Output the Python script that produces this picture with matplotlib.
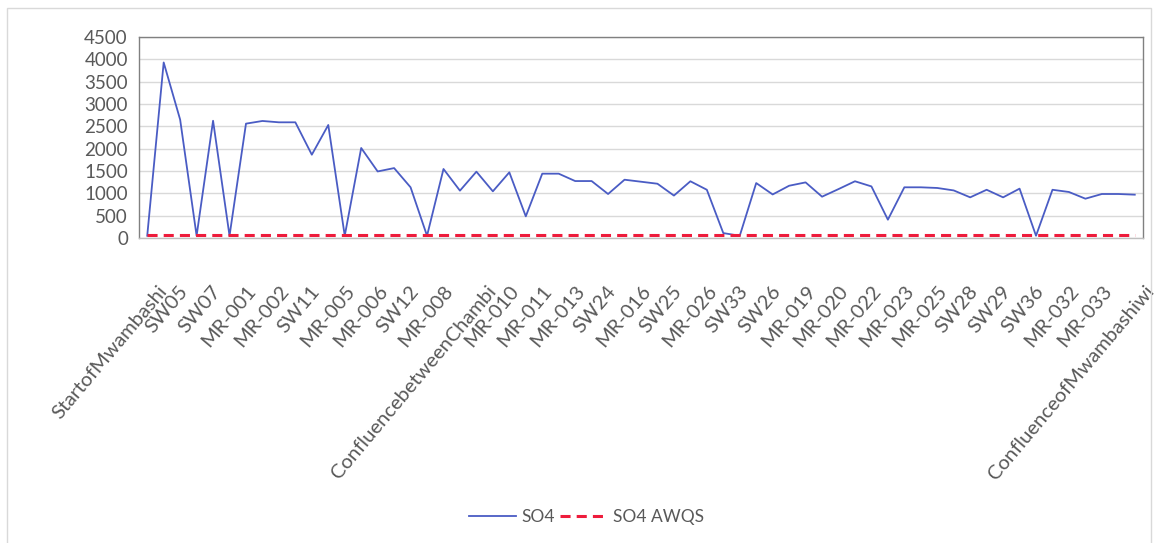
import numpy as np
import matplotlib
matplotlib.use('Agg')
import matplotlib.pyplot as plt
import matplotlib.transforms as mtransforms
from matplotlib.patches import Rectangle

plt.rcParams['font.family'] = ['Lato', 'DejaVu Sans']

# sampling points shown on the axis (every second point has a label)
labels = ['StartofMwambashi', 'SW05', 'SW07', 'MR-001', 'MR-002', 'SW11', 'MR-005',
          'MR-006', 'SW12', 'MR-008', 'ConfluencebetweenChambi', 'MR-010', 'MR-011',
          'MR-013', 'SW24', 'MR-016', 'SW25', 'MR-026', 'SW33', 'SW26', 'MR-019',
          'MR-020', 'MR-022', 'MR-023', 'MR-025', 'SW28', 'SW29', 'SW36', 'MR-032',
          'MR-033', 'ConfluenceofMwambashiwi']

# SO4 concentration at each of the 61 sampling points
so4 = [50, 3930, 2650, 50, 2625, 50, 2560, 2620, 2590, 2590,
       1865, 2530, 50, 2015, 1490, 1565, 1135, 50, 1545, 1060,
       1485, 1045, 1470, 485, 1440, 1440, 1275, 1275, 985, 1305,
       1260, 1215, 950, 1270, 1080, 110, 50, 1230, 975, 1170,
       1245, 925, 1095, 1270, 1155, 410, 1135, 1135, 1120, 1065,
       910, 1080, 910, 1105, 50, 1080, 1030, 880, 985, 985, 970]

awqs = 60  # SO4 AWQS guideline

x = np.arange(len(so4))
txt = '#595959'

fig = plt.figure(figsize=(11.57, 5.43), dpi=100)
ax = fig.add_axes([139/1157, 1-238/543, (1143-139)/1157, (238-37)/543])

ax.plot(x, so4, color='#4a5cc4', lw=1.3, label='SO4', zorder=3)
ax.plot(x, [awqs]*len(x), color='#ee1c3c', lw=2.2, dashes=(3.3, 2.0), label='SO4 AWQS', zorder=4)

ax.set_xlim(-0.5, len(so4) - 0.5)
ax.set_ylim(0, 4500)
ax.set_yticks(np.arange(0, 4501, 500))
ax.yaxis.grid(True, color='#d9d9d9', lw=1)
ax.set_axisbelow(True)

ax.set_xticks(x[::2])
ax.set_xticklabels(labels, rotation=50, ha='right', va='top', rotation_mode='anchor')
ax.tick_params(axis='x', length=0, pad=32, labelsize=14.5, labelcolor=txt)
ax.tick_params(axis='y', length=0, pad=8, labelsize=13.5, labelcolor=txt)
# Excel nudges the longer rotated labels a bit to the right
for lab in ax.get_xticklabels():
    dx = min(len(lab.get_text()) - 6, 10) / 100
    lab.set_transform(lab.get_transform() + mtransforms.ScaledTranslation(dx, 0, fig.dpi_scale_trans))

for s in ax.spines.values():
    s.set_color('#808080')
    s.set_linewidth(1)
ax.spines['bottom'].set_color('#bfbfbf')

fig.patches.append(Rectangle((7/1157, -0.01), (1151-7)/1157, 1.0 - 8/543 + 0.01,
                             transform=fig.transFigure, fill=False,
                             edgecolor='#d9d9d9', lw=1))

ax.legend(loc='center', bbox_to_anchor=(0.507, 0.048), bbox_transform=fig.transFigure,
          ncol=2, frameon=False, fontsize=12.5, labelcolor=txt, handlelength=2.7,
          handletextpad=0.35, columnspacing=0.3)

plt.savefig('out.png', dpi=100)
